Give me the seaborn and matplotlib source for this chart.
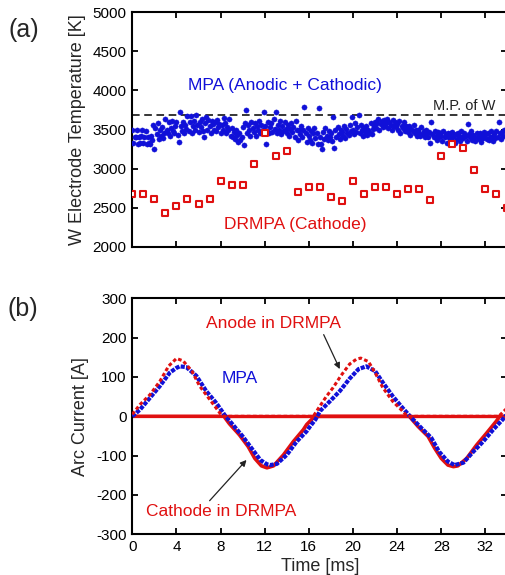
import numpy as np
import pandas as pd
import matplotlib
matplotlib.use("Agg")
import matplotlib.pyplot as plt
import seaborn as sns

# ---------------- data: panel (a) ----------------
# MPA electrode temperature samples (K), 0.1 ms apart starting at t = 0
mpa_temp = [
    3490, 3330, 3410, 3400, 3490, 3320, 3410, 3330, 3420, 3490,
    3330, 3400, 3480, 3320, 3410, 3330, 3320, 3420, 3370, 3560,
    3250, 3520, 3440, 3580, 3380, 3500, 3420, 3530, 3390, 3460,
    3640, 3500, 3460, 3590, 3420, 3520, 3610, 3480, 3450, 3550,
    3600, 3430, 3340, 3720, 3540, 3480, 3600, 3450, 3560, 3510,
    3670, 3480, 3590, 3670, 3450, 3540, 3610, 3500, 3680, 3560,
    3470, 3600, 3530, 3640, 3480, 3410, 3580, 3660, 3500, 3620,
    3540, 3460, 3610, 3570, 3500, 3590, 3480, 3620, 3530, 3570,
    3460, 3560, 3500, 3650, 3580, 3450, 3530, 3490, 3630, 3420,
    3520, 3400, 3470, 3380, 3490, 3430, 3340, 3460, 3370, 3410,
    3530, 3300, 3580, 3750, 3460, 3560, 3490, 3420, 3600, 3520,
    3470, 3580, 3420, 3540, 3490, 3610, 3450, 3560, 3500, 3730,
    3550, 3320, 3480, 3600, 3450, 3530, 3580, 3470, 3640, 3510,
    3730, 3460, 3560, 3500, 3610, 3440, 3540, 3480, 3590, 3510,
    3450, 3560, 3420, 3510, 3580, 3470, 3530, 3400, 3610, 3490,
    3360, 3500, 3440, 3550, 3410, 3490, 3790, 3460, 3340, 3520,
    3420, 3370, 3480, 3330, 3450, 3520, 3390, 3460, 3310, 3780,
    3410, 3310, 3250, 3470, 3380, 3520, 3420, 3360, 3480, 3400,
    3450, 3350, 3660, 3260, 3490, 3410, 3530, 3440, 3380, 3500,
    3470, 3420, 3550, 3390, 3510, 3460, 3430, 3560, 3480, 3660,
    3500, 3440, 3580, 3470, 3530, 3690, 3450, 3560, 3490, 3420,
    3520, 3470, 3550, 3430, 3500, 3460, 3580, 3440, 3510, 3540,
    3600, 3520, 3580, 3640, 3490, 3570, 3610, 3530, 3620, 3550,
    3580, 3640, 3520, 3600, 3560, 3490, 3620, 3550, 3600, 3530,
    3570, 3500, 3610, 3460, 3550, 3520, 3590, 3480, 3540, 3500,
    3470, 3540, 3430, 3510, 3480, 3560, 3450, 3500, 3420, 3490,
    3460, 3420, 3530, 3440, 3480, 3400, 3500, 3450, 3410, 3470,
    3330, 3600, 3440, 3400, 3480, 3420, 3360, 3470, 3410, 3450,
    3420, 3350, 3480, 3400, 3440, 3330, 3460, 3410, 3380, 3450,
    3470, 3400, 3330, 3440, 3380, 3460, 3420, 3350, 3480, 3410,
    3390, 3460, 3420, 3350, 3570, 3440, 3400, 3480, 3370, 3430,
    3410, 3350, 3460, 3400, 3380, 3450, 3340, 3420, 3390, 3470,
    3430, 3380, 3450, 3360, 3410, 3480, 3400, 3350, 3440, 3390,
    3480, 3410, 3600, 3450, 3380, 3470, 3420, 3500,
]
mpa_time = np.arange(len(mpa_temp)) * 0.1

# DRMPA cathode temperature (K), one sample per ms
drmpa_time = list(range(0, 35))
drmpa_temp = [2674, 2674, 2606, 2426, 2516, 2606, 2542, 2606, 2836, 2793,
              2793, 3062, 3451, 3156, 3224, 2695, 2768, 2768, 2631, 2580,
              2836, 2674, 2768, 2768, 2674, 2742, 2742, 2593, 3156, 3310,
              3267, 2977, 2742, 2674, 2499]
melting_point_W = 3690

# ---------------- data: panel (b) ----------------
mpa_t = [0, 0.7, 1.6, 2.5, 3.4, 4.0, 4.3, 4.9, 5.8, 6.7, 7.6, 8.4, 9.1, 10.0,
         10.8, 11.6, 12.2, 12.5, 13.1, 14.0, 14.9, 15.8, 16.1, 16.6, 17.0,
         17.9, 18.8, 19.7, 20.5, 21.2, 22.0, 22.7, 23.6, 24.5, 25.3, 26.2,
         27.1, 27.8, 28.6, 29.2, 30.0, 30.9, 31.8, 32.7, 33.6, 34.0]
mpa_i = [0, 17, 47, 77, 111, 123, 127, 125, 103, 64, 34, 2, -21, -51,
         -81, -111, -122, -124, -121, -98, -64, -38, -26, -8, 13,
         38, 64, 96, 120, 127, 115, 86, 51, 21, -4, -30,
         -55, -90, -115, -124, -118, -90, -64, -34, -7, 8]

anode_t = [0, 0.7, 1.6, 2.5, 3.3, 4.0, 4.6, 5.4, 6.1, 6.9, 7.6, 8.1, 8.3,
           12.0, 16.4, 17.0, 17.6, 18.2, 18.9, 19.7, 20.3, 20.7, 21.4, 22.0,
           22.7, 23.6, 24.5, 24.9, 29.0, 33.2, 34.0]
anode_i = [5, 30, 55, 89, 128, 147, 141, 115, 77, 47, 21, 2, 0,
           0, 0, 26, 51, 73, 103, 133, 145, 148, 139, 111,
           73, 38, 13, 0, 0, 0, 22]

cathode_t = [0, 4.0, 8.3, 8.8, 9.7, 10.5, 11.1, 11.7, 12.2, 12.8, 13.7, 14.6,
             15.5, 15.8, 16.4, 16.6, 21.0, 25.1, 25.9, 26.8, 27.4, 28.0, 28.6,
             29.1, 29.5, 30.3, 31.2, 32.1, 33.0, 33.3, 34.0]
cathode_i = [0, 0, 0, -19, -47, -77, -107, -126, -131, -126, -98, -64,
             -34, -21, -4, 0, 0, 0, -26, -51, -81, -107, -124,
             -128, -126, -107, -73, -43, -12, 0, 0]

temp_ticks = [2000, 2500, 3000, 3500, 4000, 4500, 5000]
curr_ticks = [-300, -200, -100, 0, 100, 200, 300]
time_ticks = [0, 4, 8, 12, 16, 20, 24, 28, 32]

# ---------------- style ----------------
sns.set_theme(style="ticks")
plt.rcParams['font.family'] = ['Liberation Sans', 'DejaVu Sans']
plt.rcParams['axes.unicode_minus'] = False
plt.rcParams['axes.linewidth'] = 1.5
plt.rcParams['xtick.major.width'] = 1.3
plt.rcParams['ytick.major.width'] = 1.3
plt.rcParams['xtick.major.size'] = 4.5
plt.rcParams['ytick.major.size'] = 4.5

BLUE = "#1010d8"
RED = "#e01010"
W, H = 506, 575
fig = plt.figure(figsize=(W / 100, H / 100), dpi=100)

def frac(x0, y0, x1, y1):
    return [x0 / W, 1 - y1 / H, (x1 - x0) / W, (y1 - y0) / H]

ax1 = fig.add_axes(frac(132.3, 12.3, 507.5, 246.7))
ax2 = fig.add_axes(frac(132.3, 298.3, 507.5, 534.3))

# panel (a)
ax1.plot([0, 34], [melting_point_W, melting_point_W], ls=(0, (5, 3)), color="black", lw=1.1, zorder=1)
sns.scatterplot(x=mpa_time, y=mpa_temp, ax=ax1, color=BLUE, s=14, edgecolor=BLUE,
                linewidth=0.3, zorder=3)
sns.scatterplot(x=drmpa_time, y=drmpa_temp, ax=ax1, marker="s", s=14,
                facecolor="white", edgecolor=RED, linewidth=1.5, zorder=4)
ax1.set_xlim(0, 34)
ax1.set_ylim(2000, 5000)
ax1.set_yticks(temp_ticks)
ax1.set_xticks(time_ticks)
ax1.set_xticklabels([])
ax1.set_ylabel("W Electrode Temperature [K]", fontsize=13, labelpad=5)
ax1.text(13.8, 4060, "MPA (Anodic + Cathodic)", color=BLUE, fontsize=12.5,
         ha="center", va="center")
ax1.text(14.8, 2290, "DRMPA (Cathode)", color=RED, fontsize=12.5,
         ha="center", va="center")
ax1.text(32.9, 3800, "M.P. of W", color="#222222", fontsize=10.5,
         ha="right", va="center")

# panel (b)
anode_flat = np.where(np.array(anode_i) == 0, 0.0, np.nan)
sns.lineplot(x=cathode_t, y=cathode_i, ax=ax2, color=RED, linewidth=2.6,
             estimator=None, sort=False, zorder=2)
sns.lineplot(x=anode_t, y=anode_flat, ax=ax2, color=RED, linewidth=2.4,
             estimator=None, sort=False, zorder=2)
sns.lineplot(x=mpa_t, y=mpa_i, ax=ax2, color=BLUE, linewidth=3.0,
             linestyle=(0, (1.0, 0.3)), estimator=None, sort=False, zorder=3)
sns.lineplot(x=anode_t, y=anode_i, ax=ax2, color=RED, linewidth=2.2,
             linestyle=(0, (1.2, 0.8)), estimator=None, sort=False, zorder=4)
ax2.set_xlim(0, 34)
ax2.set_ylim(-300, 300)
ax2.set_yticks(curr_ticks)
ax2.set_xticks(time_ticks)
ax2.set_xlabel("Time [ms]", fontsize=13, labelpad=3)
ax2.set_ylabel("Arc Current [A]", fontsize=13, labelpad=5)
ax2.text(9.75, 96, "MPA", color=BLUE, fontsize=12.5, ha="center", va="center")
ax2.annotate("Anode in DRMPA", xy=(18.8, 120), xytext=(12.8, 235),
             color=RED, fontsize=12.5, ha="center", va="center",
             arrowprops=dict(arrowstyle="-|>", color="#222222", lw=0.9,
                             shrinkA=0, shrinkB=0, mutation_scale=9,
                             relpos=(0.86, 0.0)))
ax2.annotate("Cathode in DRMPA", xy=(10.35, -111), xytext=(8.1, -242),
             color=RED, fontsize=12.5, ha="center", va="center",
             arrowprops=dict(arrowstyle="-|>", color="#222222", lw=0.9,
                             shrinkA=0, shrinkB=0, mutation_scale=9,
                             relpos=(0.4, 1.0)))

for ax in (ax1, ax2):
    ax.tick_params(direction="in", top=True, right=True, labelsize=11,
                   colors="black", pad=4)
    for sp in ax.spines.values():
        sp.set_visible(True)
        sp.set_color("black")
    ax.legend_ = None
    ax.set_facecolor("white")

fig.text(9 / W, 1 - 30 / H, "(a)", fontsize=18, ha="left", va="center")
fig.text(8 / W, 1 - 309 / H, "(b)", fontsize=18, ha="left", va="center")

fig.savefig("out.png", dpi=100, facecolor="white")
